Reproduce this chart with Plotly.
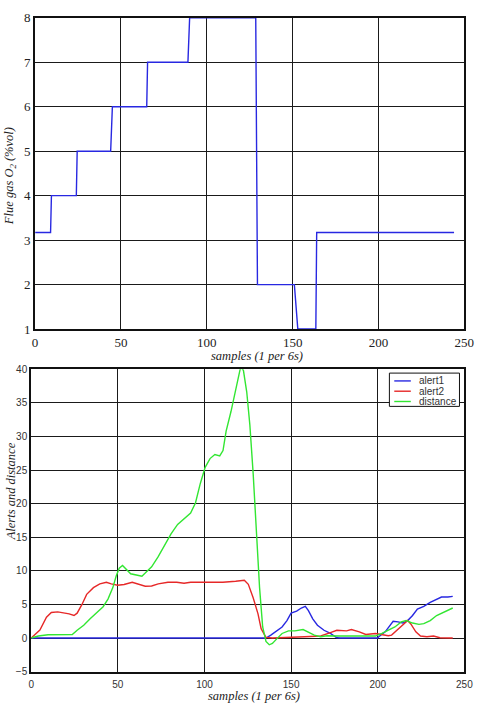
import plotly.graph_objects as go

# ---- Top chart: flue gas O2 step profile ----
o2_samples = [0, 9, 9.5, 24, 24.5, 44, 45, 65, 65.5, 89, 90, 128.5, 129.5, 151, 153, 163.5, 164, 244]
o2_values = [3.17, 3.17, 4, 4, 5, 5, 6, 6, 7, 7, 8, 8, 2, 2, 1, 1, 3.17, 3.17]

# ---- Bottom chart: alerts and distance ----
alert1_x = [0, 133, 135.5, 138.3, 142, 144.8, 147.6, 150, 153.2, 155.9, 158.2, 160, 162.5, 165.2, 169,
            172.7, 176.4, 178.3, 200, 200.6, 204.3, 207.1, 208.9, 211.7, 214.5, 217.3, 220.1, 222.9,
            226.6, 230.3, 234, 236.8, 240.5, 243.3]
alert1_y = [0, 0, 0, 0.44, 1.16, 1.65, 2.6, 3.7, 4.0, 4.47, 4.7, 4.08, 2.86, 1.9, 1.16,
            0.68, 0.05, 0, 0, 0.2, 0.92, 1.9, 2.5, 2.4, 2.23, 2.6, 3.35, 4.3,
            4.7, 5.3, 5.78, 6.1, 6.1, 6.2]

alert2_x = [0, 5, 8.8, 11.6, 15.3, 18, 21.9, 24.7, 26.5, 29.3, 32, 35.9, 39.6, 43.4, 46.2, 49.9, 53.6,
            58.3, 62, 65.8, 69.5, 73.3, 78.9, 84, 88.2, 92, 99.4, 110.6, 118, 121, 123, 125.3, 128.1,
            130.9, 132.7, 135.5, 139.2, 157.8, 162, 167.1, 172.7, 176.4, 182, 184.8, 189.4, 193.1,
            198.7, 202.4, 206.1, 208, 210.8, 213.6, 216.4, 217.3, 219.1, 222, 224.7, 228.4, 232.2,
            235.9, 241.4, 243.3]
alert2_y = [0, 1.2, 3.1, 3.8, 3.9, 3.8, 3.6, 3.35, 3.7, 5.0, 6.5, 7.5, 8.05, 8.3, 8.05, 7.86, 7.96,
            8.3, 8.05, 7.7, 7.75, 8.05, 8.3, 8.3, 8.15, 8.3, 8.3, 8.3, 8.45, 8.6, 8.6, 8.0, 6.0,
            3.6, 1.4, 0.1, 0, 0.2, 0.25, 0.3, 0.8, 1.15, 1.07, 1.26, 0.92, 0.53,
            0.68, 0.53, 0.34, 0.44, 1.07, 1.75, 2.4, 2.6, 2.1, 0.92, 0.3, 0.2, 0.3,
            0.05, 0, 0]

distance_x = [0, 4.1, 9.7, 17.2, 23.7, 26.5, 30.3, 34, 37.8, 41.5, 44.3, 47.1, 49, 50.8, 52.7, 54.6,
              57.4, 62, 63.9, 65.8, 69.5, 73.3, 77, 80.7, 84.5, 88.2, 92, 94.8, 97.6, 100.4, 103.2,
              106, 108.8, 110.7, 112.5, 115.3, 118.1, 120.6, 121.6, 122.5, 124.4, 126.2, 128.1, 129.9,
              131.8, 133.6, 135.5, 137.4, 139.2, 142, 144.8, 148.5, 152.2, 156.9, 159.7, 163.4, 167.1,
              170.8, 178.3, 185.7, 193.1, 198.7, 202.4, 206.1, 209.9, 213.6, 216.4, 220.1, 223.8,
              226.6, 230.3, 234, 237.7, 240.5, 243.3]
distance_y = [0, 0.3, 0.5, 0.53, 0.53, 1.16, 1.9, 2.86, 3.83, 4.66, 5.8, 7.5, 9.2, 10.4, 10.8, 10.3,
              9.56, 9.3, 9.2, 9.66, 10.6, 12.1, 13.8, 15.5, 16.9, 17.7, 18.6, 20.1, 23, 25.4, 26.7,
              27.3, 27.1, 27.9, 30.8, 33.7, 36.8, 40, 40.2, 39.8, 36.6, 31.7, 24.5, 16.2,
              7.5, 1.65, -0.5, -1.0, -0.8, -0.05, 0.68, 1.07, 1.07, 1.26, 0.92, 0.44, 0.2,
              0.34, 0.3, 0.3, 0.2, 0.3, 0.68, 1.16, 1.65, 2.4, 2.6, 2.23, 2.04,
              2.14, 2.6, 3.35, 3.83, 4.17, 4.47]

series_names = ["alert1", "alert2", "distance"]

x_ticks = [0, 50, 100, 150, 200, 250]
top_y_ticks = [1, 2, 3, 4, 5, 6, 7, 8]
bottom_y_ticks = [-5, 0, 5, 10, 15, 20, 25, 30, 35, 40]

W, H = 487, 710
BLUE = "rgb(40,40,225)"
RED = "rgb(230,40,40)"
GREEN = "rgb(50,230,50)"
COLORS = [BLUE, RED, GREEN]
SERIF = "Liberation Serif, Times New Roman, serif"
SANS = "Liberation Sans, Arial, sans-serif"

fig = go.Figure()
fig.add_trace(go.Scatter(x=o2_samples, y=o2_values, mode="lines", line=dict(color=BLUE, width=1.4),
                         xaxis="x", yaxis="y", showlegend=False))
for name, xs, ys, col in zip(series_names, [alert1_x, alert2_x, distance_x],
                             [alert1_y, alert2_y, distance_y], COLORS):
    fig.add_trace(go.Scatter(x=xs, y=ys, mode="lines", name=name, showlegend=False,
                             line=dict(color=col, width=1.4), xaxis="x2", yaxis="y2"))

axis_common = dict(showgrid=True, gridcolor="#1a1a1a", gridwidth=1.3, showline=True, linecolor="#111",
                   linewidth=2, mirror=True, ticks="", zeroline=False, fixedrange=True)


def px(x):
    return x / W


def py(y):
    return 1 - y / H


# Legend box (drawn to match the compact reference legend)
shapes = [dict(type="rect", xref="paper", yref="paper", x0=px(397), x1=px(469), y0=py(408), y1=py(374),
               line=dict(color="#111", width=1), fillcolor="white", layer="above")]
annotations = []
legend_rows = [382, 392.5, 403]
for name, col, yy in zip(series_names, COLORS, legend_rows):
    shapes.append(dict(type="line", xref="paper", yref="paper", x0=px(402), x1=px(419), y0=py(yy), y1=py(yy),
                       line=dict(color=col, width=1.4), layer="above"))
    annotations.append(dict(text=name, x=px(425), y=py(yy), xref="paper", yref="paper", xanchor="left",
                            yanchor="middle", showarrow=False, font=dict(family=SANS, size=10, color="#333")))

annotations += [
    dict(text="<i>samples (1 per 6s)</i>", x=px(261), y=py(357), xref="paper", yref="paper",
         xanchor="center", yanchor="middle",
         showarrow=False, font=dict(family=SERIF, size=12.5, color="#222")),
    dict(text="<i>samples (1 per 6s)</i>", x=px(258), y=py(704), xref="paper", yref="paper",
         xanchor="center", yanchor="middle",
         showarrow=False, font=dict(family=SERIF, size=12.5, color="#222")),
    dict(text="<i>Flue gas O<sub>2</sub> (%vol)</i>", x=px(8), y=py(173), xref="paper",
         yref="paper", xanchor="center", yanchor="middle", showarrow=False, textangle=-90,
         font=dict(family=SERIF, size=12.5, color="#222")),
    dict(text="<i>Alerts and distance</i>", x=px(8), y=py(495), xref="paper",
         yref="paper", xanchor="center", yanchor="middle", showarrow=False, textangle=-90,
         font=dict(family=SERIF, size=12.5, color="#222")),
]

fig.update_layout(
    width=W, height=H, margin=dict(l=0, r=0, t=0, b=0),
    paper_bgcolor="white", plot_bgcolor="white", showlegend=False,
    xaxis=dict(domain=[px(33), px(474)], anchor="y", range=[0, 250], tickvals=x_ticks,
               tickfont=dict(family=SERIF, size=13, color="#222"), **axis_common),
    yaxis=dict(domain=[py(329), py(11)], anchor="x", range=[1, 8], tickvals=top_y_ticks,
               tickfont=dict(family=SERIF, size=13, color="#222"), **axis_common),
    xaxis2=dict(domain=[px(29), px(474)], anchor="y2", range=[0, 250], tickvals=x_ticks,
                ticklabelstandoff=2,
                tickfont=dict(family=SANS, size=10, color="#333"), **axis_common),
    yaxis2=dict(domain=[py(679), py(370)], anchor="x2", range=[-5, 40], tickvals=bottom_y_ticks,
                tickfont=dict(family=SANS, size=10, color="#333"), **axis_common),
    shapes=shapes,
    annotations=annotations,
)

fig.write_html("out.html")
